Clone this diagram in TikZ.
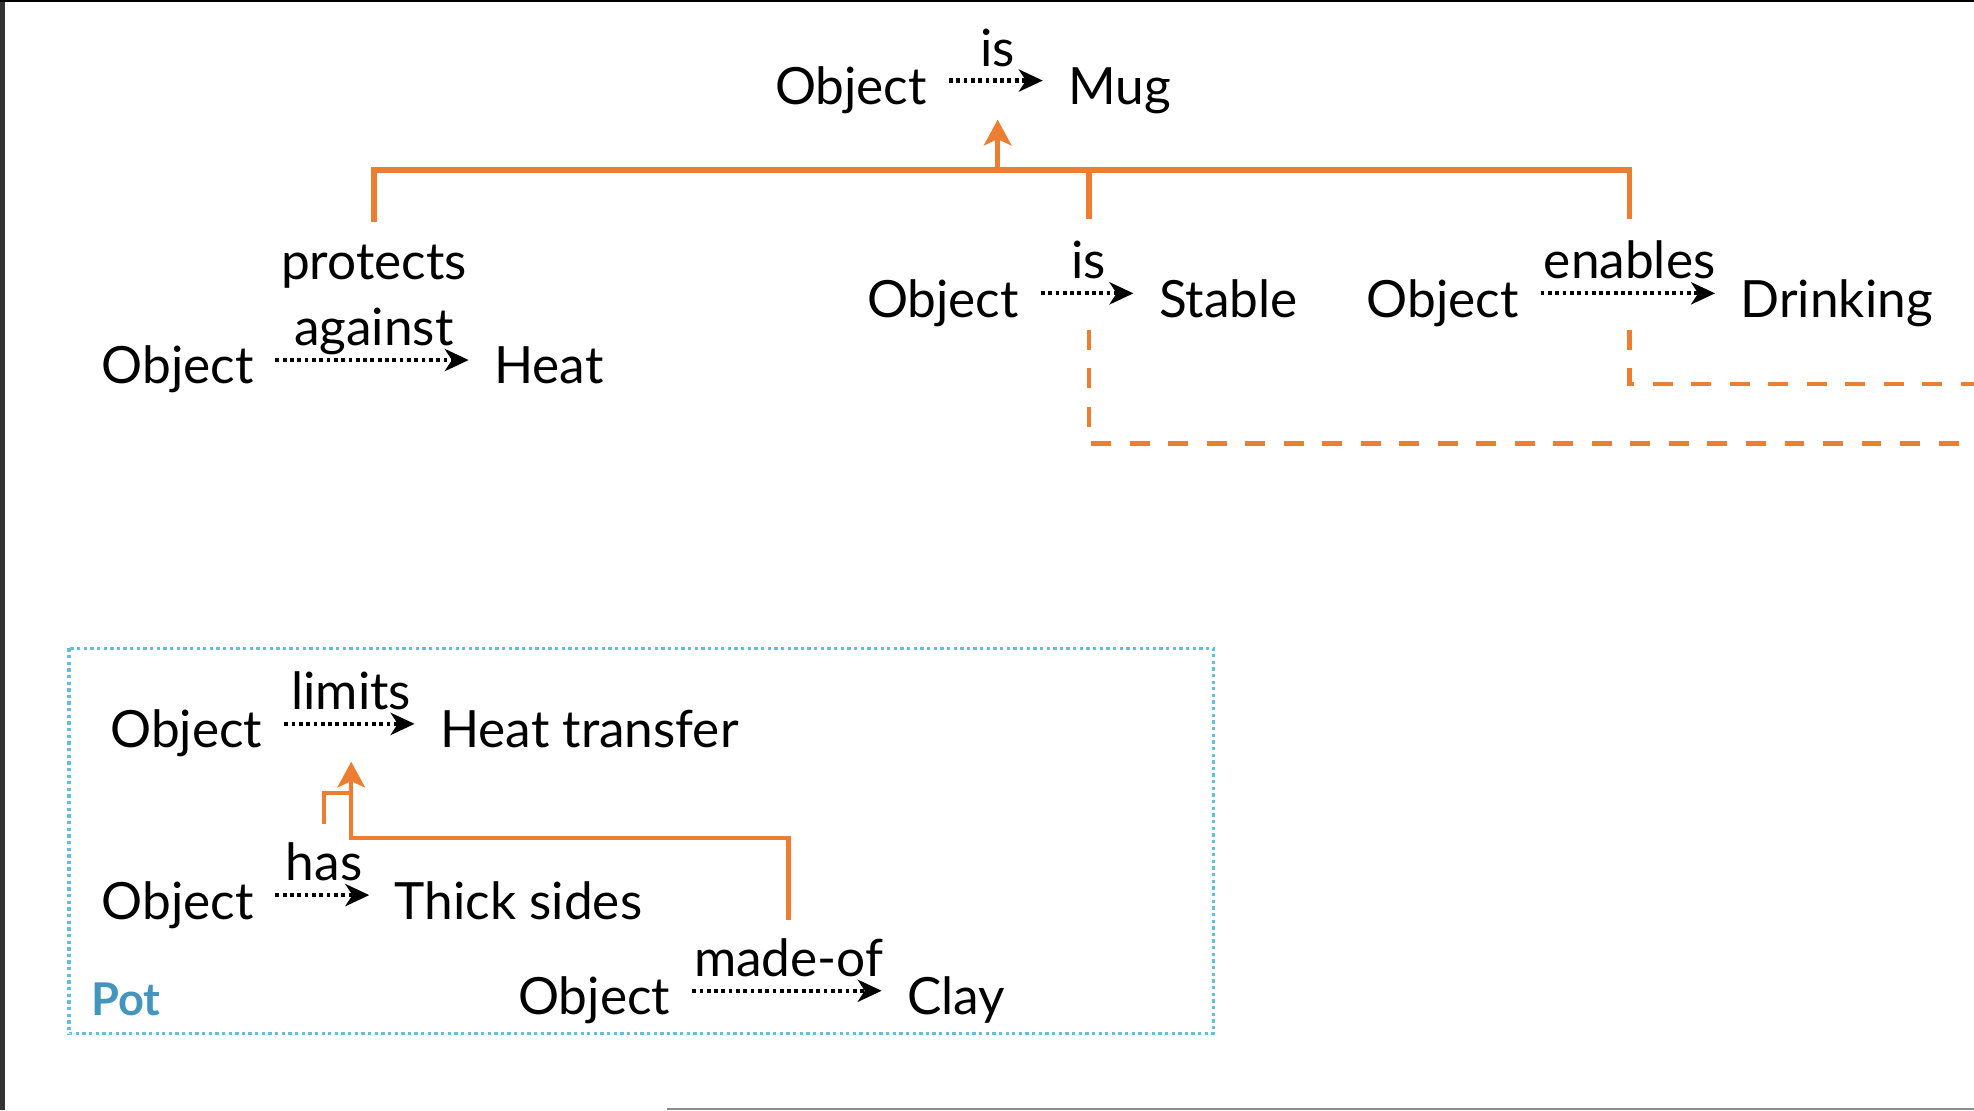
\documentclass[tikz,border=0pt]{standalone}
\usepackage{fontspec}
\setmainfont{Lato}
\usepackage{tikz}
\usetikzlibrary{arrows.meta, calc}
\definecolor{linkorange}{RGB}{237,125,49}
\definecolor{potblue}{RGB}{100,192,218}
\definecolor{pottext}{RGB}{66,150,190}

\begin{document}
\begin{tikzpicture}[x=0.01cm, y=-0.01cm,
  term/.style={anchor=base west, inner sep=0pt, text height=11pt, text depth=0.2pt,
               font=\fontsize{11.6}{14.8}\selectfont},
  lbl/.style={above=2.8pt, inner sep=0pt, text depth=0pt, align=center,
              font=\fontsize{11.6}{15}\selectfont},
  rel/.style={line width=0.95pt, dash pattern=on 0.85pt off 0.8pt,
              shorten <=4.8pt, shorten >=5.6pt,
              -{Stealth[length=5.4pt, width=5pt, inset=1.6pt]}},
  tree/.style={draw=linkorange, line width=1.2pt},
  tip/.style={-{Stealth[length=5.8pt, width=6.2pt, inset=1.4pt]}},
  maybe/.style={draw=linkorange, line width=1.1pt, dash pattern=on 4.5pt off 4.2pt},
  potbox/.style={draw=potblue, line width=0.8pt, dash pattern=on 0.75pt off 0.75pt},
]
  \useasboundingbox (0,0) rectangle (1568,882);
  \clip (0,0) rectangle (1568,882);

  % screen edges
  \fill[black!80] (0,0) rectangle (4,882);
  \fill[black] (0,0) rectangle (1568,1.5);
  \fill[black!45] (530,880) rectangle (1568,882);

  % Top statement
  \node[term] (obj0) at (615,83) {Object};
  \node[term] (mug) at (848,83) {Mug};
  \draw[rel] (obj0) -- coordinate (rmug) node[lbl] (lmug) {is} (mug);

  % Second row
  \node[term] (obj1) at (80,305) {Object};
  \node[term] (heat) at (392,305) {Heat};
  \draw[rel] (obj1) -- node[lbl] (lprot) {protects\\against} (heat);

  \node[term] (obj2) at (688,252) {Object};
  \node[term] (stable) at (920,252) {Stable};
  \draw[rel] (obj2) -- coordinate (rstab) node[lbl] (lstab) {is} (stable);

  \node[term] (obj3) at (1085,252) {Object};
  \node[term] (drink) at (1382,252) {Drinking};
  \draw[rel] (obj3) -- coordinate (rdrink) node[lbl] (ldrink) {enables} (drink);

  % Orange links up to Mug
  \coordinate (hub) at ([yshift=-7.1mm]rmug);
  \draw[tree] ([yshift=1.6mm]lprot.north) |- (hub) -| ([yshift=1.6mm]ldrink.north);
  \draw[tree] ([yshift=1.6mm]lstab.north) -- (lstab.north |- hub);
  \draw[tree, tip] (hub) -- ([yshift=-3.1mm]rmug);

  % Dashed links leaving the picture
  \coordinate (outA) at (1600,352);
  \coordinate (outB) at (1600,305);
  \draw[maybe] ([yshift=-2.9mm]rstab) |- (outA);
  \draw[maybe] ([yshift=-2.9mm]rdrink) |- (outB);

  % Pot frame
  \draw[potbox] (55,515) rectangle (964,821);
  \node[anchor=base west, inner sep=0pt, text=pottext,
        font=\fontsize{10.2}{12}\selectfont\bfseries] (pot) at (72,807) {Pot};

  \node[term] (obj4) at (87,594) {Object};
  \node[term] (htrans) at (349,594) {Heat transfer};
  \draw[rel] (obj4) -- coordinate (rlim) node[lbl] (llim) {limits} (htrans);

  \node[term] (obj5) at (80,730) {Object};
  \node[term] (thick) at (313,730) {Thick sides};
  \draw[rel] (obj5) -- node[lbl] (lhas) {has} (thick);

  \node[term] (obj6) at (411,806) {Object};
  \node[term] (clay) at (720,806) {Clay};
  \draw[rel] (obj6) -- node[lbl] (lmade) {made-of} (clay);

  % Orange links inside Pot
  \draw[tree, line width=1pt, tip] ([yshift=1.3mm]lmade.north) -- ++(0,-65)
       -| ([yshift=-3mm]rlim);
  \draw[tree, line width=1pt] ([yshift=1.3mm]lhas.north) |- ([yshift=-5.5mm]rlim);
\end{tikzpicture}
\end{document}
